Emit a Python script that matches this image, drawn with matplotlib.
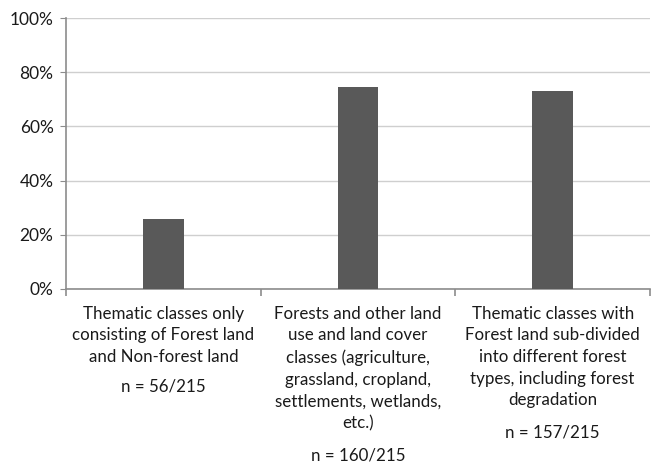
import matplotlib
matplotlib.use("Agg")
import matplotlib.pyplot as plt
from matplotlib.ticker import PercentFormatter

plt.rcParams['font.family'] = ['Lato', 'DejaVu Sans']

# data
categories = [
    "Thematic classes only\nconsisting of Forest land\nand Non-forest land",
    "Forests and other land\nuse and land cover\nclasses (agriculture,\ngrassland, cropland,\nsettlements, wetlands,\netc.)",
    "Thematic classes with\nForest land sub-divided\ninto different forest\ntypes, including forest\ndegradation",
]
counts = ["n = 56/215", "n = 160/215", "n = 157/215"]
shares = [0.26, 0.744, 0.73]
yticks = [0, 0.2, 0.4, 0.6, 0.8, 1.0]

fig = plt.figure(figsize=(6.51, 4.66), dpi=100)
ax = fig.add_axes([0.1014, 0.380, 0.897, 0.581])

x = list(range(len(categories)))
ax.bar(x, shares, width=0.21, color='#595959', zorder=3)

ax.set_xlim(-0.5, len(categories) - 0.5)
ax.set_ylim(0, 1.0)
ax.set_yticks(yticks)
ax.yaxis.set_major_formatter(PercentFormatter(1.0, decimals=0))
ax.grid(axis='y', color='#cfcfcf', linewidth=1, zorder=0)

for s in ['top', 'right']:
    ax.spines[s].set_visible(False)
for s in ['left', 'bottom']:
    ax.spines[s].set_color('#8c8c8c')
    ax.spines[s].set_linewidth(1.2)

ax.tick_params(axis='y', length=4, color='#8c8c8c', labelsize=12.5,
               labelcolor='#1a1a1a', pad=5)
ax.set_xticks([])
ax.set_xticks([i - 0.5 for i in range(len(categories) + 1)], minor=True)
ax.tick_params(axis='x', which='minor', length=5, color='#8c8c8c', width=1.2)
ax.tick_params(axis='x', which='major', length=0, labelbottom=False)

line_pt = 23 * 0.72
for i, (lab, n) in enumerate(zip(categories, counts)):
    nlines = lab.count("\n") + 1
    ax.annotate(lab, xy=(i, 0), xycoords=('data', 'axes fraction'),
                xytext=(0, -12), textcoords='offset points',
                ha='center', va='top', fontsize=12.2, linespacing=1.44,
                color='#1a1a1a')
    ax.annotate(n, xy=(i, 0), xycoords=('data', 'axes fraction'),
                xytext=(0, -12 - nlines * line_pt - 3), textcoords='offset points',
                ha='center', va='top', fontsize=12.2, color='#1a1a1a')

plt.savefig("out.png", dpi=100)
